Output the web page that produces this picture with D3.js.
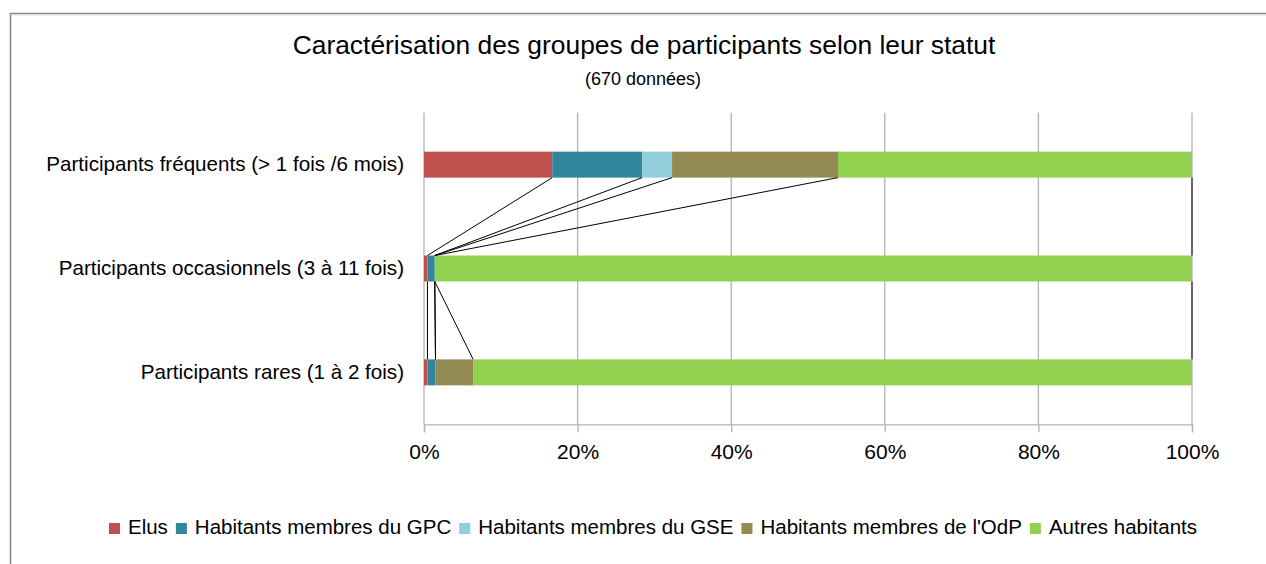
<!DOCTYPE html>
<html>
<head>
<meta charset="utf-8">
<script src="https://cdn.jsdelivr.net/npm/d3@7"></script>
<style>
  body { margin: 0; background: #fff; }
  svg { display: block; font-family: 'Liberation Sans', Arial, sans-serif; }
</style>
</head>
<body>
<svg id="chart" width="1266" height="564"></svg>
<script>
// categories, top to bottom
const categories = [
  'Participants fréquents (> 1 fois /6 mois)',
  'Participants occasionnels (3 à 11 fois)',
  'Participants rares (1 à 2 fois)'
];
const seriesNames = [
  'Elus',
  'Habitants membres du GPC',
  'Habitants membres du GSE',
  "Habitants membres de l'OdP",
  'Autres habitants'
];
// share (%) of each group, one value per category
const elus     = [16.7, 0.45, 0.45];
const gpc      = [11.7, 0.95, 1.05];
const gse      = [3.9, 0, 0];
const odp      = [21.6, 0, 4.9];
const autres   = [46.1, 98.6, 93.6];
const ticks = [0, 20, 40, 60, 80, 100];
const _color = ['#C0504D', '#31859C', '#92CDDC', '#948A54', '#92D050'];

const data = categories.map((c, i) => ({
  cat: c,
  'Elus': elus[i],
  'Habitants membres du GPC': gpc[i],
  'Habitants membres du GSE': gse[i],
  "Habitants membres de l'OdP": odp[i],
  'Autres habitants': autres[i]
}));

const svg = d3.select('#chart');

// outer frame
svg.append('rect')
  .attr('x', 10.5).attr('y', 13.5)
  .attr('width', 1300).attr('height', 600)
  .attr('fill', 'none')
  .attr('stroke', '#868686')
  .attr('stroke-width', 1.5);
svg.append('line')
  .attr('x1', 11.5).attr('x2', 1266)
  .attr('y1', 15).attr('y2', 15)
  .attr('stroke', '#dcdcdc');

// titles
svg.append('text')
  .attr('x', 644).attr('y', 54)
  .attr('text-anchor', 'middle')
  .style('font-size', '26.4px')
  .attr('fill', '#000')
  .text('Caractérisation des groupes de participants selon leur statut');
svg.append('text')
  .attr('x', 643).attr('y', 85)
  .attr('text-anchor', 'middle')
  .style('font-size', '18px')
  .attr('fill', '#000')
  .text('(670 données)');

const plotLeft = 424, plotRight = 1192, plotTop = 112.7, plotBottom = 424.3;

const x = d3.scaleLinear().domain([0, 100]).range([plotLeft, plotRight]);
const y = d3.scaleBand()
  .domain(categories)
  .range([plotTop, plotBottom])
  .paddingInner(0.75)
  .paddingOuter(0.375);

// grid
svg.append('g')
  .selectAll('line')
  .data(ticks)
  .join('line')
    .attr('x1', d => x(d)).attr('x2', d => x(d))
    .attr('y1', plotTop).attr('y2', plotBottom)
    .attr('stroke', '#b3b3b3')
    .attr('stroke-width', 1.3);

// x axis
const xAxis = d3.axisBottom(x)
  .tickValues(ticks)
  .tickSize(8)
  .tickPadding(12)
  .tickFormat(d => d + '%');

const gx = svg.append('g')
  .attr('transform', `translate(0, ${plotBottom})`)
  .call(xAxis);
gx.select('.domain').attr('stroke', '#b3b3b3').attr('stroke-width', 1.3);
gx.selectAll('.tick line').attr('stroke', '#b3b3b3').attr('stroke-width', 1.3);
gx.selectAll('.tick text')
  .style('font-size', '21px')
  .style('font-family', "'Liberation Sans', Arial, sans-serif")
  .attr('fill', '#000');

// y axis labels
const yAxis = d3.axisLeft(y).tickSize(0).tickPadding(20);
const gy = svg.append('g')
  .attr('transform', `translate(${plotLeft}, 0)`)
  .call(yAxis);
gy.select('.domain').remove();
gy.selectAll('.tick text')
  .style('font-size', '20.6px')
  .style('font-family', "'Liberation Sans', Arial, sans-serif")
  .attr('fill', '#000');

// stacked bars
const stack = d3.stack().keys(seriesNames);
const _series = stack(data);

svg.append('g')
  .selectAll('g')
  .data(_series)
  .join('g')
    .attr('fill', (d, i) => _color[i])
  .selectAll('rect')
  .data(d => d)
  .join('rect')
    .attr('y', d => y(d.data.cat))
    .attr('height', y.bandwidth())
    .attr('x', d => x(d[0]))
    .attr('width', d => x(d[1]) - x(d[0]));

// series lines between neighbouring bars
const links = [];
_series.forEach(s => {
  for (let i = 0; i < s.length - 1; i++) {
    links.push({
      x1: x(s[i][1]), y1: y(categories[i]) + y.bandwidth(),
      x2: x(s[i + 1][1]), y2: y(categories[i + 1])
    });
  }
});
svg.append('g')
  .selectAll('line')
  .data(links)
  .join('line')
    .attr('x1', d => d.x1).attr('y1', d => d.y1)
    .attr('x2', d => d.x2).attr('y2', d => d.y2)
    .attr('stroke', '#000')
    .attr('stroke-width', 1);

// legend
const legend = svg.append('g');
let lx = 0;
seriesNames.forEach((name, i) => {
  const g = legend.append('g').attr('transform', `translate(${lx}, 0)`);
  g.append('rect')
    .attr('x', 0).attr('y', 523)
    .attr('width', 11).attr('height', 11)
    .attr('fill', _color[i]);
  const t = g.append('text')
    .attr('x', 19).attr('y', 534)
    .style('font-size', '20.5px')
    .attr('fill', '#000')
    .text(name);
  lx += 19 + t.node().getComputedTextLength() + 8;
});
const legendW = lx - 8;
legend.attr('transform', `translate(${653 - legendW / 2}, 0)`);
</script>
</body>
</html>
